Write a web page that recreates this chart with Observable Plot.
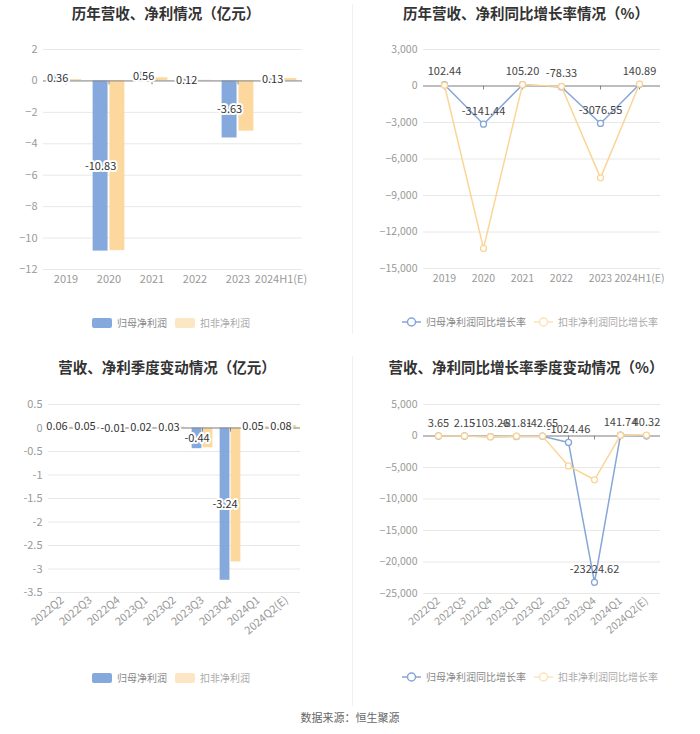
<!DOCTYPE html>
<html>
<head>
<meta charset="utf-8">
<script src="https://cdn.jsdelivr.net/npm/d3@7"></script>
<script src="https://cdn.jsdelivr.net/npm/@observablehq/plot@0.6"></script>
<style>
  html, body { margin: 0; padding: 0; background: #fff; }
  #root { position: relative; width: 700px; height: 734px; background: #fff; overflow: hidden;
          font-family: "Noto Sans CJK SC", "Noto Sans", sans-serif; }
  .title { position: absolute; text-align: center; font-size: 14.5px; font-weight: bold; color: #333; line-height: 20px; }
  .panel { position: absolute; }
  .legend { position: absolute; display: flex; align-items: center; font-size: 10px; line-height: 12px; white-space: nowrap; }
  .legend .sw { display: inline-block; width: 20px; height: 10px; border-radius: 2px; margin-right: 5px; }
  .legend svg { margin-right: 5px; }
  .legend .item { display: flex; align-items: center; margin-right: 8px; }
  .caption { position: absolute; left: 0; width: 700px; top: 709px; text-align: center; font-size: 11px; color: #666; }
  .divider { position: absolute; left: 352px; width: 1px; background: #f0f0f0; }
</style>
</head>
<body>
<div id="root"></div>
<script>
// ---------- data ----------
const years = ["2019", "2020", "2021", "2022", "2023", "2024H1(E)"];
const annualParentProfit = [0.36, -10.83, 0.56, 0.12, -3.63, 0.13];
const annualDeductedProfit = [0.08, -10.8, 0.2, 0.04, -3.2, 0.15];
const annualParentGrowth = [102.44, -3141.44, 105.20, -78.33, -3076.55, 140.89];
const annualDeductedGrowth = [60, -13350, 110, -40, -7550, 160];

const quarters = ["2022Q2", "2022Q3", "2022Q4", "2023Q1", "2023Q2", "2023Q3", "2023Q4", "2024Q1", "2024Q2(E)"];
const quarterParentProfit = [0.06, 0.05, -0.01, 0.02, 0.03, -0.44, -3.24, 0.05, 0.08];
const quarterDeductedProfit = [0.02, 0.01, -0.02, 0.01, 0.02, -0.42, -2.85, 0.03, 0.05];
const quarterParentGrowth = [3.65, 2.15, -103.26, -81.81, -42.65, -1024.46, -23224.62, 141.74, 40.32];
const quarterDeductedGrowth = [10, 5, -120, -30, -20, -4750, -6950, 120, 150];

const annualProfitTicks = [-12, -10, -8, -6, -4, -2, 0, 2];
const annualGrowthTicks = [-15000, -12000, -9000, -6000, -3000, 0, 3000];
const quarterProfitTicks = [-3.5, -3, -2.5, -2, -1.5, -1, -0.5, 0, 0.5];
const quarterGrowthTicks = [-25000, -20000, -15000, -10000, -5000, 0, 5000];

const titles = ["历年营收、净利情况（亿元）", "历年营收、净利同比增长率情况（%）", "营收、净利季度变动情况（亿元）", "营收、净利同比增长率季度变动情况（%）"];
const barLegend = ["归母净利润", "扣非净利润"];
const lineLegend = ["归母净利润同比增长率", "扣非净利润同比增长率"];
const caption = "数据来源：恒生聚源";

// ---------- style ----------
const FONT = '"Noto Sans CJK SC", "Noto Sans", sans-serif';
const BLUE = "#85a9dc";
const YELLOW = "#fdd89e";
const BLUE_LINE = "#86a6d8";
const YELLOW_LINE = "#fbd597";

const root = document.getElementById("root");

function place(el, left, top) {
  el.style.left = left + "px";
  el.style.top = top + "px";
  root.appendChild(el);
}

function barChart({cats, a, b, ticks, fmt, ml, mr, mt, mb, height, rotate}) {
  const bw = (350 - ml - mr) / cats.length;
  const rows = cats.map((c, i) => ({c, a: a[i], b: b[i]}));
  return Plot.plot({
    width: 350, height,
    marginLeft: ml, marginRight: mr, marginTop: mt, marginBottom: mb,
    style: {fontSize: "11px", fontFamily: FONT, color: "#999", background: "transparent", overflow: "visible"},
    x: {domain: cats, padding: 0, tickSize: 0, tickPadding: 6, tickRotate: rotate || 0, label: null},
    y: {domain: [ticks[0], ticks[ticks.length - 1]], ticks, tickSize: 0, tickPadding: 6, tickFormat: fmt, label: null},
    marks: [
      Plot.ruleY(ticks, {stroke: "#e8e8e8"}),
      Plot.barY(rows, {x: "c", y: "a", fill: BLUE, insetLeft: bw * 0.13, insetRight: bw * 0.52}),
      Plot.barY(rows, {x: "c", y: "b", fill: YELLOW, insetLeft: bw * 0.52, insetRight: bw * 0.13}),
      Plot.ruleY([0], {stroke: "#888"}),
      Plot.ruleX(cats, {x: d => d, y1: () => 0, y2: () => 0, insetBottom: -4, stroke: "#888"}),
      Plot.text(rows, {x: "c", y: d => d.a / 2, text: d => d.a.toFixed(2), dx: -bw * 0.195,
        fill: "#333", stroke: "white", strokeWidth: 4, paintOrder: "stroke", fontSize: 11})
    ]
  });
}

function lineChart({cats, a, b, ticks, ml, mr, mt, mb, height, rotate}) {
  const rows = cats.map((c, i) => ({c, a: a[i], b: b[i]}));
  return Plot.plot({
    width: 350, height,
    marginLeft: ml, marginRight: mr, marginTop: mt, marginBottom: mb,
    style: {fontSize: "10.5px", fontFamily: FONT, color: "#999", background: "transparent", overflow: "visible"},
    x: {type: "point", domain: cats, padding: 0.5, tickSize: 0, tickPadding: 6, tickRotate: rotate || 0, label: null},
    y: {domain: [ticks[0], ticks[ticks.length - 1]], ticks, tickSize: 0, tickPadding: 6, tickFormat: d3.format(","), label: null},
    marks: [
      Plot.ruleY(ticks, {stroke: "#e8e8e8"}),
      Plot.ruleY([0], {stroke: "#888"}),
      Plot.ruleX(cats, {x: d => d, y1: () => 0, y2: () => 0, insetBottom: -4, stroke: "#888"}),
      Plot.line(rows, {x: "c", y: "a", stroke: BLUE_LINE, strokeWidth: 1.5}),
      Plot.dot(rows, {x: "c", y: "a", r: 3, fill: "white", stroke: BLUE_LINE, strokeWidth: 1.3}),
      Plot.line(rows, {x: "c", y: "b", stroke: YELLOW_LINE, strokeWidth: 1.5}),
      Plot.dot(rows, {x: "c", y: "b", r: 3, fill: "white", stroke: YELLOW_LINE, strokeWidth: 1.3}),
      Plot.text(rows, {x: "c", y: "a", text: d => d.a.toFixed(2), dy: -13, fill: "#444", fontSize: 11})
    ]
  });
}

function title(text, left, width, top) {
  const d = document.createElement("div");
  d.className = "title";
  d.style.width = width + "px";
  d.textContent = text;
  place(d, left, top);
}

function barLegendEl(left, top) {
  const d = document.createElement("div");
  d.className = "legend";
  d.innerHTML =
    `<span class="item"><span class="sw" style="background:${BLUE}"></span><span style="color:#888">${barLegend[0]}</span></span>` +
    `<span class="item"><span class="sw" style="background:#fde6c3"></span><span style="color:#aaa">${barLegend[1]}</span></span>`;
  place(d, left, top);
}

function lineLegendEl(left, top) {
  const sym = c => `<svg width="19" height="12"><line x1="0" y1="6" x2="19" y2="6" stroke="${c}" stroke-width="1.5"/><circle cx="9.5" cy="6" r="4" fill="white" stroke="${c}" stroke-width="1.5"/></svg>`;
  const d = document.createElement("div");
  d.className = "legend";
  d.innerHTML =
    `<span class="item">${sym(BLUE_LINE)}<span style="color:#888">${lineLegend[0]}</span></span>` +
    `<span class="item">${sym("#fde3b8")}<span style="color:#aaa">${lineLegend[1]}</span></span>`;
  place(d, left, top);
}

// dividers
for (const [t, h] of [[4, 330], [356, 350]]) {
  const d = document.createElement("div");
  d.className = "divider";
  d.style.top = t + "px";
  d.style.height = h + "px";
  root.appendChild(d);
}

// titles
title(titles[0], 0, 332, 3);
title(titles[1], 350, 352, 3);
title(titles[2], 0, 334, 357);
title(titles[3], 350, 352, 357);

// panels
const p1 = barChart({cats: years, a: annualParentProfit, b: annualDeductedProfit, ticks: annualProfitTicks,
  fmt: d3.format("d"), ml: 43, mr: 48, mt: 19, mb: 22, height: 261});
p1.classList.add("panel"); place(p1, 0, 30);

const p2 = lineChart({cats: years, a: annualParentGrowth, b: annualDeductedGrowth, ticks: annualGrowthTicks,
  ml: 73, mr: 40, mt: 19, mb: 23, height: 261});
p2.classList.add("panel"); place(p2, 350, 30);

const p3 = barChart({cats: quarters, a: quarterParentProfit, b: quarterDeductedProfit, ticks: quarterProfitTicks,
  fmt: d => String(d), ml: 48, mr: 50, mt: 19, mb: 55, height: 262, rotate: -40});
p3.classList.add("panel"); place(p3, 0, 385);

const p4 = lineChart({cats: quarters, a: quarterParentGrowth, b: quarterDeductedGrowth, ticks: quarterGrowthTicks,
  ml: 73, mr: 40, mt: 19, mb: 54, height: 262, rotate: -40});
p4.classList.add("panel"); place(p4, 350, 385);

// legends
barLegendEl(92, 317);
lineLegendEl(402, 316);
barLegendEl(92, 672);
lineLegendEl(402, 671);

const cap = document.createElement("div");
cap.className = "caption";
cap.textContent = caption;
root.appendChild(cap);
</script>
</body>
</html>
